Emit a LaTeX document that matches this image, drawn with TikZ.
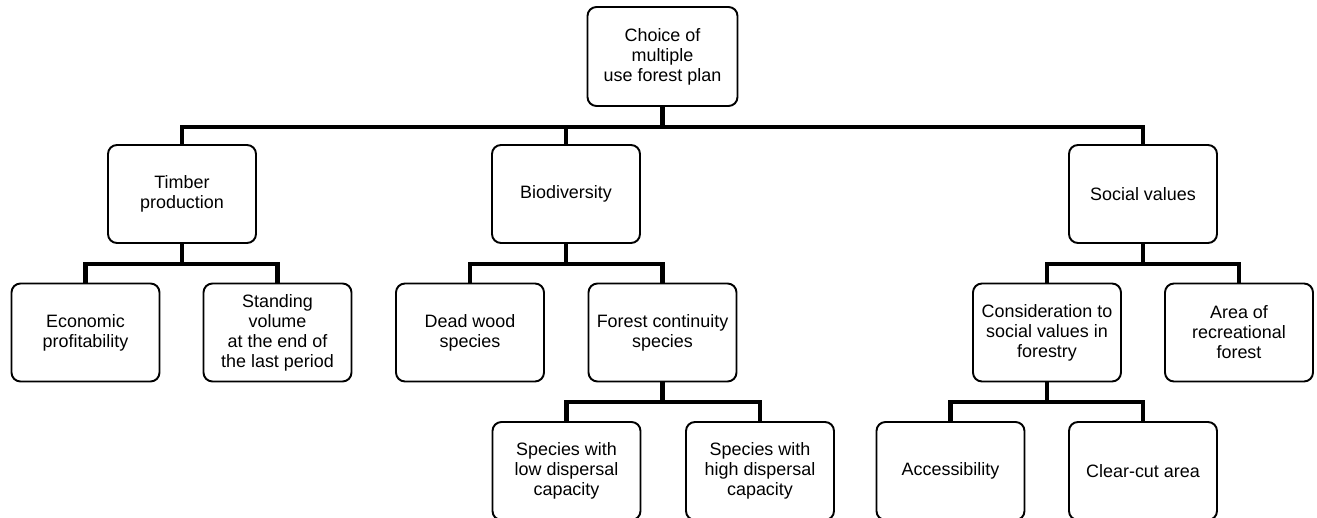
\documentclass[tikz,border=0pt]{standalone}
\usepackage{fontspec}
\setmainfont{Liberation Sans}

\begin{document}
\begin{tikzpicture}[
      font=\fontsize{10.2}{11.4}\selectfont,
      crit/.style={draw=black, line width=1.1pt, rounded corners=0.18cm,
        minimum width=2.96cm, minimum height=1.96cm, inner sep=0pt, align=center},
      goal/.style={crit, minimum width=3.0cm, minimum height=1.98cm},
      link/.style={draw=black, line width=2.3pt}
    ]
    % ---- scale: 0.02 cm per pixel, 1317 x 518 -> 26.34 x 10.36 cm ----
    \useasboundingbox (0,0) rectangle (26.34,-10.36);

    % ---- goal ----
    \node[goal] (plan) at (13.25,-1.13) {Choice of\\multiple\\use forest plan};

    % ---- main criteria ----
    \node[crit] (timber) at (3.64,-3.88) {Timber\\production};
    \node[crit] (biodiv) at (11.32,-3.88) {Biodiversity};
    \node[crit] (social) at (22.86,-3.88) {Social values};

    % ---- sub-criteria ----
    \node[crit] (profit) at (1.71,-6.65) {Economic\\profitability};
    \node[crit] (volume) at (5.55,-6.65) {Standing\\volume\\at the end of\\the last period};
    \node[crit] (deadwood) at (9.40,-6.65) {Dead wood\\species};
    \node[crit] (contin) at (13.25,-6.65) {Forest continuity\\species};
    \node[crit] (consid) at (20.94,-6.65) {Consideration to\\social values in\\forestry};
    \node[crit] (recr) at (24.78,-6.65) {Area of\\recreational\\forest};

    % ---- lowest level (cut by the page edge) ----
    \node[crit] (lowdisp) at (11.33,-9.42) {Species with\\low dispersal\\capacity};
    \node[crit] (highdisp) at (15.20,-9.42) {Species with\\high dispersal\\capacity};
    \node[crit] (access) at (19.01,-9.42) {Accessibility};
    \node[crit] (clearcut) at (22.86,-9.42) {Clear-cut area};

    % ---- connectors ----
    \draw[link] (plan.south) -- ++(0,-0.4) -| (timber.north);
    \draw[link] (plan.south) -- ++(0,-0.4) -| (biodiv.north);
    \draw[link] (plan.south) -- ++(0,-0.4) -| (social.north);
    \draw[link] (timber.south) -- ++(0,-0.4) -| (profit.north);
    \draw[link] (timber.south) -- ++(0,-0.4) -| (volume.north);
    \draw[link] (biodiv.south) -- ++(0,-0.4) -| (deadwood.north);
    \draw[link] (biodiv.south) -- ++(0,-0.4) -| (contin.north);
    \draw[link] (social.south) -- ++(0,-0.4) -| (consid.north);
    \draw[link] (social.south) -- ++(0,-0.4) -| (recr.north);
    \draw[link] (contin.south) -- ++(0,-0.4) -| (lowdisp.north);
    \draw[link] (contin.south) -- ++(0,-0.4) -| (highdisp.north);
    \draw[link] (consid.south) -- ++(0,-0.4) -| (access.north);
    \draw[link] (consid.south) -- ++(0,-0.4) -| (clearcut.north);
  \end{tikzpicture}
\end{document}
